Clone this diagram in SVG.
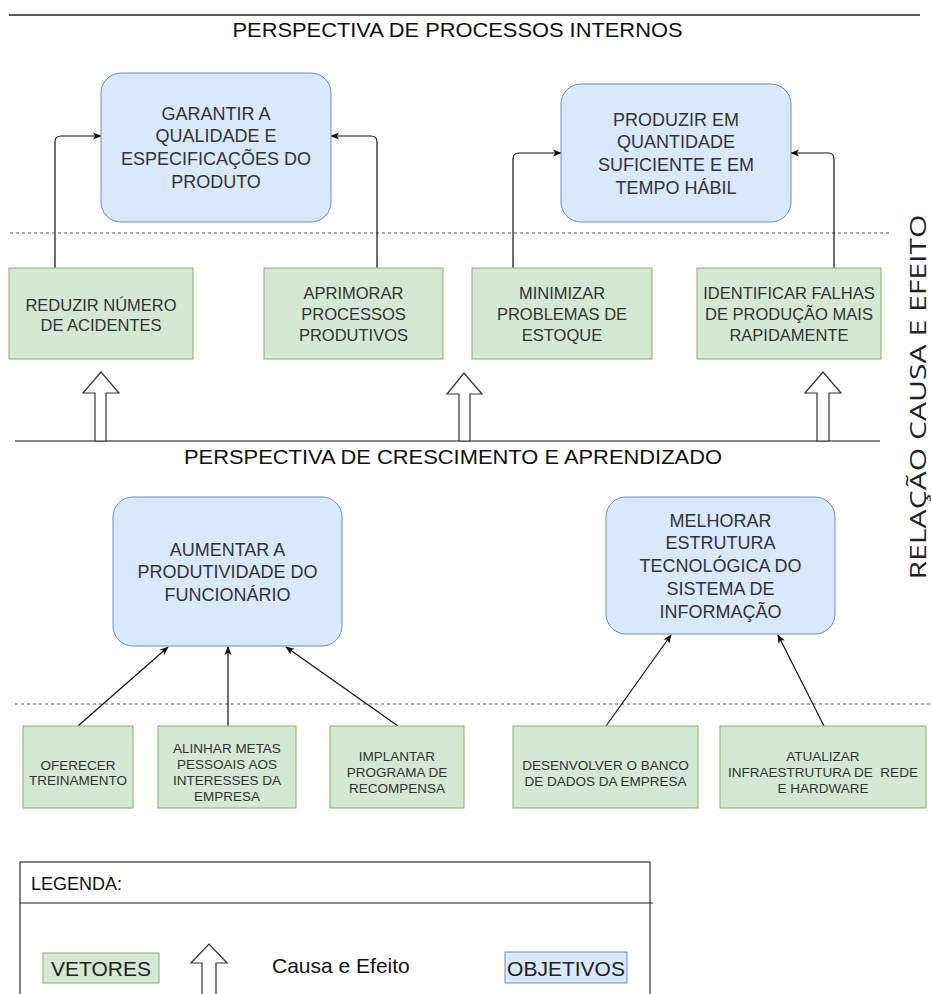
<svg xmlns="http://www.w3.org/2000/svg" width="931" height="994" viewBox="0 0 931 994">
<style>
.obj{fill:#dae8fc;stroke:#6c8ebf;stroke-width:1}
.vet{fill:#d5e8d4;stroke:#82b366;stroke-width:1}
.t{font-family:"Liberation Sans",Arial,sans-serif;fill:#333;text-anchor:middle}
.big{font-size:18px}
.mid{font-size:16.5px}
.sm{font-size:13.5px}
.title{font-family:"Liberation Sans",Arial,sans-serif;font-size:20px;fill:#111;text-anchor:middle}
.dot{stroke:#555;stroke-width:1.2;stroke-dasharray:3,3;fill:none}
.con{stroke:#111;stroke-width:1.2;fill:none;marker-end:url(#ah)}
.blk{fill:#fff;stroke:#333;stroke-width:1.2}
</style>
<defs>
<marker id="ah" viewBox="0 0 10 10" refX="9" refY="5" markerWidth="9" markerHeight="9" markerUnits="userSpaceOnUse" orient="auto">
<path d="M0,1 L10,5 L0,9 L2.5,5 z" fill="#111"/>
</marker>
</defs>
<rect width="931" height="994" fill="#fff"/>

<g id="frame">
<line x1="9" y1="15" x2="920" y2="15" stroke="#555" stroke-width="2"/>
<text class="title" x="457.5" y="37" textLength="450" lengthAdjust="spacingAndGlyphs">PERSPECTIVA DE PROCESSOS INTERNOS</text>
<line class="dot" x1="10" y1="233" x2="890" y2="233"/>
<line x1="15" y1="441" x2="880" y2="441" stroke="#111" stroke-width="1.2"/>
<text class="title" x="453" y="464" textLength="538" lengthAdjust="spacingAndGlyphs">PERSPECTIVA DE CRESCIMENTO E APRENDIZADO</text>
<line class="dot" x1="15" y1="704" x2="931" y2="704"/>
<text transform="translate(926,397) rotate(-90)" x="0" y="0" font-family="'Open Sans','Noto Sans',sans-serif" font-size="21" fill="#222" text-anchor="middle" textLength="365" lengthAdjust="spacingAndGlyphs">RELAÇÃO CAUSA E EFEITO</text>
</g>

<g id="bigarrows">
<polygon class="blk" points="95,441 95,393 83,393 101,372 119,393 106,393 106,441"/>
<polygon class="blk" points="459,441 459,394 447,394 464,373 482,394 470,394 470,441"/>
<polygon class="blk" points="817,441 817,393 805,393 823,372 841,393 829,393 829,441"/>
</g>

<g id="connectors">
<path class="con" d="M55,268 V142 Q55,136 61,136 H101"/>
<path class="con" d="M377,268 V142 Q377,136 371,136 H331"/>
<path class="con" d="M513,268 V159 Q513,153 519,153 H561"/>
<path class="con" d="M834,268 V159 Q834,153 828,153 H791"/>
<path class="con" d="M78,726 L168,647"/>
<path class="con" d="M228,726 L228,647"/>
<path class="con" d="M398,726 L286,647"/>
<path class="con" d="M606,726 L671,635"/>
<path class="con" d="M824,726 L778,635"/>
</g>

<g id="garantir">
<rect class="obj" x="101" y="73" width="230" height="149" rx="20"/>
<text class="t big" x="216"><tspan x="216" y="119.5">GARANTIR A</tspan><tspan x="216" y="142.3">QUALIDADE E</tspan><tspan x="216" y="165.1">ESPECIFICAÇÕES DO</tspan><tspan x="216" y="187.9">PRODUTO</tspan></text>
</g>
<g id="produzir">
<rect class="obj" x="561" y="84" width="230" height="138" rx="20"/>
<text class="t big" x="676"><tspan x="676" y="125.5">PRODUZIR EM</tspan><tspan x="676" y="148.3">QUANTIDADE</tspan><tspan x="676" y="171.1">SUFICIENTE E EM</tspan><tspan x="676" y="193.9">TEMPO HÁBIL</tspan></text>
</g>
<g id="reduzir">
<rect class="vet" x="9" y="268" width="184" height="91"/>
<text class="t mid"><tspan x="101" y="311">REDUZIR NÚMERO</tspan><tspan x="101" y="331">DE ACIDENTES</tspan></text>
</g>
<g id="aprimorar">
<rect class="vet" x="264" y="268" width="179" height="91"/>
<text class="t mid"><tspan x="353.5" y="299">APRIMORAR</tspan><tspan x="353.5" y="320">PROCESSOS</tspan><tspan x="353.5" y="341">PRODUTIVOS</tspan></text>
</g>
<g id="minimizar">
<rect class="vet" x="472" y="268" width="180" height="91"/>
<text class="t mid"><tspan x="562" y="299">MINIMIZAR</tspan><tspan x="562" y="320">PROBLEMAS DE</tspan><tspan x="562" y="341">ESTOQUE</tspan></text>
</g>
<g id="identificar">
<rect class="vet" x="697" y="268" width="184" height="91"/>
<text class="t mid"><tspan x="789" y="299">IDENTIFICAR FALHAS</tspan><tspan x="789" y="320">DE PRODUÇÃO MAIS</tspan><tspan x="789" y="341">RAPIDAMENTE</tspan></text>
</g>

<g id="aumentar">
<rect class="obj" x="113" y="497" width="229" height="149" rx="20"/>
<text class="t big"><tspan x="227.5" y="555.5">AUMENTAR A</tspan><tspan x="227.5" y="578">PRODUTIVIDADE DO</tspan><tspan x="227.5" y="600.5">FUNCIONÁRIO</tspan></text>
</g>
<g id="melhorar">
<rect class="obj" x="606" y="497" width="229" height="137" rx="20"/>
<text class="t big"><tspan x="720.5" y="526.5">MELHORAR</tspan><tspan x="720.5" y="549">ESTRUTURA</tspan><tspan x="720.5" y="571.5">TECNOLÓGICA DO</tspan><tspan x="720.5" y="594.5">SISTEMA DE</tspan><tspan x="720.5" y="617.5">INFORMAÇÃO</tspan></text>
</g>
<g id="oferecer">
<rect class="vet" x="23" y="726" width="110" height="82"/>
<text class="t sm"><tspan x="78" y="770">OFERECER</tspan><tspan x="78" y="785">TREINAMENTO</tspan></text>
</g>
<g id="alinhar">
<rect class="vet" x="158" y="726" width="138" height="82"/>
<text class="t sm"><tspan x="227" y="753">ALINHAR METAS</tspan><tspan x="227" y="769">PESSOAIS AOS</tspan><tspan x="227" y="785">INTERESSES DA</tspan><tspan x="227" y="801">EMPRESA</tspan></text>
</g>
<g id="implantar">
<rect class="vet" x="330" y="726" width="134" height="82"/>
<text class="t sm"><tspan x="397" y="761">IMPLANTAR</tspan><tspan x="397" y="777">PROGRAMA DE</tspan><tspan x="397" y="793">RECOMPENSA</tspan></text>
</g>
<g id="desenvolver">
<rect class="vet" x="513" y="726" width="185" height="82"/>
<text class="t sm"><tspan x="605.5" y="770">DESENVOLVER O BANCO</tspan><tspan x="605.5" y="786">DE DADOS DA EMPRESA</tspan></text>
</g>
<g id="atualizar">
<rect class="vet" x="720" y="726" width="206" height="82"/>
<text class="t sm" xml:space="preserve"><tspan x="823" y="761">ATUALIZAR</tspan><tspan x="823" y="777">INFRAESTRUTURA DE  REDE</tspan><tspan x="823" y="793">E HARDWARE</tspan></text>
</g>

<g id="legenda">
<rect x="20" y="862" width="630" height="140" fill="none" stroke="#333" stroke-width="1.2"/>
<line x1="20" y1="903" x2="653" y2="903" stroke="#222" stroke-width="1.2"/>
<text x="31" y="890" font-family="'Liberation Sans',Arial,sans-serif" font-size="18" fill="#111">LEGENDA:</text>
<rect class="vet" x="43" y="953" width="116" height="30"/>
<text x="101" y="976" font-family="'Liberation Sans',Arial,sans-serif" font-size="21" fill="#222" text-anchor="middle">VETORES</text>
<polygon class="blk" points="202,996 202,963 191,963 209,944 227,963 216,963 216,996"/>
<text x="272" y="973" font-family="'Liberation Sans',Arial,sans-serif" font-size="21" fill="#111">Causa e Efeito</text>
<rect class="obj" x="505" y="952" width="122" height="31"/>
<text x="566" y="976" font-family="'Liberation Sans',Arial,sans-serif" font-size="21" fill="#222" text-anchor="middle">OBJETIVOS</text>
</g>
</svg>
